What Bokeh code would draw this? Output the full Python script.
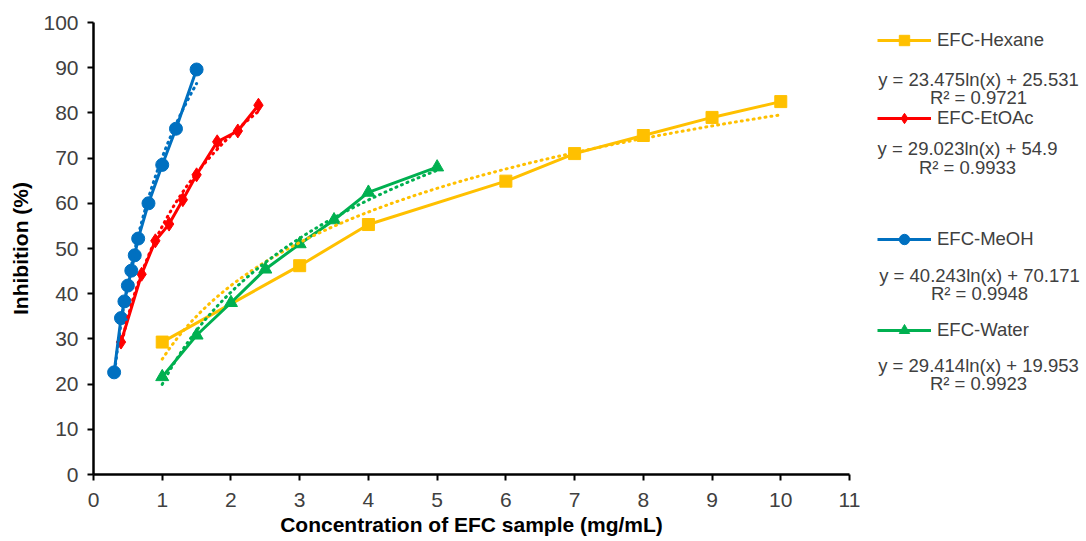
import numpy as np
from bokeh.plotting import figure
from bokeh.layouts import row
from bokeh.models import Range1d, SingleIntervalTicker, Legend, LegendItem, Label
from bokeh.embed import file_html
from bokeh.resources import INLINE

# ---- data ----
hex_x = [1, 3, 4, 6, 7, 8, 9, 10]
hex_y = [29.3, 46.2, 55.3, 64.9, 71.0, 75.0, 79.0, 82.5]

etoac_x = [0.4, 0.7, 0.9, 1.1, 1.3, 1.5, 1.8, 2.1, 2.4]
etoac_y = [29.3, 44.3, 51.7, 55.4, 60.8, 66.3, 73.6, 76.0, 81.7]

meoh_x = [0.3, 0.4, 0.45, 0.5, 0.55, 0.6, 0.65, 0.8, 1.0, 1.2, 1.5]
meoh_y = [22.6, 34.6, 38.3, 41.8, 45.1, 48.5, 52.2, 60.0, 68.5, 76.5, 89.6]

water_x = [1, 1.5, 2, 2.5, 3, 3.5, 4, 5]
water_y = [21.6, 30.8, 38.0, 45.4, 51.0, 56.3, 62.4, 68.0]

series_names = ["EFC-Hexane", "EFC-EtOAc", "EFC-MeOH", "EFC-Water"]
# logarithmic trendline coefficients shown in the chart: y = a ln(x) + b
trend_a = [23.475, 29.023, 40.243, 29.414]
trend_b = [25.531, 54.9, 70.171, 19.953]
r2_values = ["0.9721", "0.9933", "0.9948", "0.9923"]
eq_texts = ["y = 23.475ln(x) + 25.531", "y = 29.023ln(x) + 54.9",
            "y = 40.243ln(x) + 70.171", "y = 29.414ln(x) + 19.953"]

colors = ["#FFC000", "#FF0000", "#0070C0", "#00B050"]
markers = ["square", "diamond", "circle", "triangle"]
msizes = [12, 14, 13, 13]

FONT = "Liberation Sans"
GRAY = "#404040"

H = 540
TOP, BOT = 22, 474
p = figure(width=860, height=H, output_backend="svg", toolbar_location=None,
           x_range=Range1d(0, 11), y_range=Range1d(0, 100),
           min_border_left=93, min_border_right=11, min_border_top=TOP, min_border_bottom=H - BOT)
p.outline_line_color = None
p.xgrid.visible = False
p.ygrid.visible = False
p.background_fill_color = "white"

p.xaxis.ticker = SingleIntervalTicker(interval=1)
p.yaxis.ticker = SingleIntervalTicker(interval=10)
for ax in (p.xaxis[0], p.yaxis[0]):
    ax.axis_line_width = 2.5
    ax.axis_line_color = "black"
    ax.major_tick_line_width = 2
    ax.major_tick_line_color = "black"
    ax.major_tick_in = 0
    ax.major_tick_out = 6
    ax.minor_tick_line_color = None
    ax.major_label_text_font = FONT
    ax.major_label_text_font_size = "21px"
    ax.major_label_text_color = GRAY
    ax.axis_label_text_font = FONT
    ax.axis_label_text_font_size = "21px"
    ax.axis_label_text_font_style = "bold"
    ax.axis_label_text_color = "black"

p.xaxis.axis_label = "Concentration of EFC sample (mg/mL)"
p.yaxis.axis_label = "Inhibition (%)"
p.xaxis.major_label_standoff = 12
p.xaxis.axis_label_standoff = 3
p.yaxis.major_label_standoff = 9
p.yaxis.axis_label_standoff = 8

xs_all = [hex_x, etoac_x, meoh_x, water_x]
ys_all = [hex_y, etoac_y, meoh_y, water_y]

for xs, ys, c, m, s in zip(xs_all, ys_all, colors, markers, msizes):
    p.line(xs, ys, line_color=c, line_width=3)
    p.scatter(xs, ys, marker=m, size=s, fill_color=c, line_color=c)

# trendlines (dotted)
for xs, a, b, c in zip(xs_all, trend_a, trend_b, colors):
    tx = np.linspace(min(xs), max(xs), 80)
    ty = a * np.log(tx) + b
    p.line(tx, ty, line_color=c, line_width=3, line_dash="1 5", line_cap="round")

# ---- legend panel on the right (page-pixel coordinates) ----
X0, W2 = 860, 224
p2 = figure(width=W2, height=H, output_backend="svg", toolbar_location=None,
            x_range=Range1d(X0, X0 + W2), y_range=Range1d(BOT, TOP),
            min_border=0, min_border_left=0, min_border_right=0,
            min_border_top=TOP, min_border_bottom=H - BOT)
p2.axis.visible = False
p2.grid.visible = False
p2.outline_line_color = None

legend_y = [40, 118, 239, 330]
eq_y = [79, 148, 275, 365]
r2_y = [97, 167, 293, 383]
eq_cx = [978, 967, 979, 978]
GH = 26
nan = [float("nan")]
for i in range(4):
    rl = p2.line(nan, nan, line_color=colors[i], line_width=3)
    rs = p2.scatter(nan, nan, marker=markers[i], size=msizes[i],
                    fill_color=colors[i], line_color=colors[i])
    leg = Legend(items=[LegendItem(label=series_names[i], renderers=[rl, rs])],
                 location=(877 - X0, BOT - (legend_y[i] + GH / 2)),
                 glyph_width=54, glyph_height=GH, label_height=GH,
                 label_standoff=6, padding=0, margin=0, spacing=0,
                 border_line_color=None, background_fill_alpha=0,
                 label_text_font=FONT, label_text_font_size="18.5px",
                 label_text_color=GRAY)
    p2.add_layout(leg)
    p2.add_layout(Label(x=eq_cx[i], y=eq_y[i], text=eq_texts[i],
                        text_align="center", text_baseline="middle",
                        text_font=FONT, text_font_size="18.5px", text_color=GRAY))
    p2.add_layout(Label(x=eq_cx[i], y=r2_y[i], text="R² = " + r2_values[i],
                        text_align="center", text_baseline="middle",
                        text_font=FONT, text_font_size="18.5px", text_color=GRAY))

layout = row(p, p2)
open("out.html", "w").write(file_html(layout, INLINE))
